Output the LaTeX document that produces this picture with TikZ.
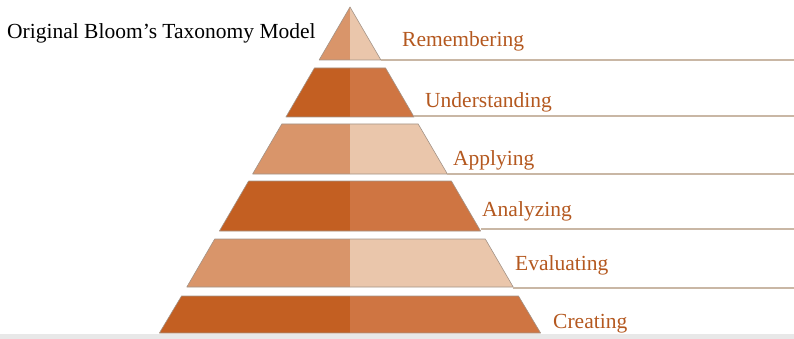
\documentclass[tikz,border=0pt]{standalone}
\usepackage{fontspec}
\setmainfont{Liberation Serif}
\usepackage{tikz}
\usetikzlibrary{positioning,calc}

\definecolor{darkL}{HTML}{C35F22}
\definecolor{darkR}{HTML}{CF7542}
\definecolor{lightL}{HTML}{D9956A}
\definecolor{lightR}{HTML}{EAC6AB}
\definecolor{levelcol}{HTML}{B4581F}
\definecolor{rulecol}{HTML}{C9B7A5}
\definecolor{edgecol}{HTML}{A39387}

\tikzset{
  darkleft/.style = {fill=darkL},
  darkright/.style = {fill=darkR},
  lightleft/.style = {fill=lightL},
  lightright/.style = {fill=lightR},
  tieredge/.style = {draw=edgecol, line width=0.6pt, line join=round},
  level/.style = {anchor=base west, inner sep=0pt, text=levelcol,
    font=\fontsize{21.5}{25}\selectfont},
  levelrule/.style = {draw=rulecol, line width=1.1pt},
}

\begin{document}
\begin{tikzpicture}[x=1pt, y=-1pt]
    \useasboundingbox (0,0) rectangle (794,339);
    % bottom strip
    \fill[black!9] (0,334) rectangle (794,339);

    % tiers, top to bottom
    \fill[lightleft]  (319.1,60) -- (350,7) -- (350,60) -- cycle;
    \fill[lightright] (350,60) -- (350,7) -- (380.9,60) -- cycle;
    \draw[tieredge] (319.1,60) -- (350,7) -- (380.9,60) -- cycle;

    \fill[darkleft]  (285.9,117) -- (314.4,68) -- (350,68) -- (350,117) -- cycle;
    \fill[darkright] (350,117) -- (350,68) -- (385.6,68) -- (414.1,117) -- cycle;
    \draw[tieredge] (285.9,117) -- (314.4,68) -- (385.6,68) -- (414.1,117) -- cycle;

    \fill[lightleft]  (252.6,174) -- (281.8,124) -- (350,124) -- (350,174) -- cycle;
    \fill[lightright] (350,174) -- (350,124) -- (418.2,124) -- (447.4,174) -- cycle;
    \draw[tieredge] (252.6,174) -- (281.8,124) -- (418.2,124) -- (447.4,174) -- cycle;

    \fill[darkleft]  (219.4,231) -- (248.6,181) -- (350,181) -- (350,231) -- cycle;
    \fill[darkright] (350,231) -- (350,181) -- (451.4,181) -- (480.6,231) -- cycle;
    \draw[tieredge] (219.4,231) -- (248.6,181) -- (451.4,181) -- (480.6,231) -- cycle;

    \fill[lightleft]  (186.8,287) -- (214.7,239) -- (350,239) -- (350,287) -- cycle;
    \fill[lightright] (350,287) -- (350,239) -- (485.3,239) -- (513.2,287) -- cycle;
    \draw[tieredge] (186.8,287) -- (214.7,239) -- (485.3,239) -- (513.2,287) -- cycle;

    \fill[darkleft]  (159.4,333) -- (181.5,296) -- (350,296) -- (350,333) -- cycle;
    \fill[darkright] (350,333) -- (350,296) -- (518.5,296) -- (540.6,333) -- cycle;
    \draw[tieredge] (159.4,333) -- (181.5,296) -- (518.5,296) -- (540.6,333) -- cycle;

    % rules from the tier corners to the right edge
    \coordinate (c1) at (380.9,60);
    \coordinate (c2) at (414.1,116);
    \coordinate (c3) at (447.4,174);
    \coordinate (c4) at (480.6,229);
    \coordinate (c5) at (513.2,288);
    \coordinate (e1) at (794,60);
    \coordinate (e2) at (794,116);
    \coordinate (e3) at (794,174);
    \coordinate (e4) at (794,229);
    \coordinate (e5) at (794,288);
    \draw[levelrule] (c1) -- (e1);
    \draw[levelrule] (c2) -- (e2);
    \draw[levelrule] (c3) -- (e3);
    \draw[levelrule] (c4) -- (e4);
    \draw[levelrule] (c5) -- (e5);

    % level names
    \node[level] (rem) at (402,47) {Remembering};
    \node[level] (und) at (425,108) {Understanding};
    \node[level] (app) at (453,166) {Applying};
    \node[level] (ana) at (482,216) {Analyzing};
    \node[level] (eva) at (515,270) {Evaluating};
    \node[level] (cre) at (553,328) {Creating};

    \node[anchor=base west, inner sep=0pt, font=\fontsize{21.5}{25}\selectfont]
      (title) at (7,39) {Original Bloom’s Taxonomy Model};
\end{tikzpicture}
\end{document}
